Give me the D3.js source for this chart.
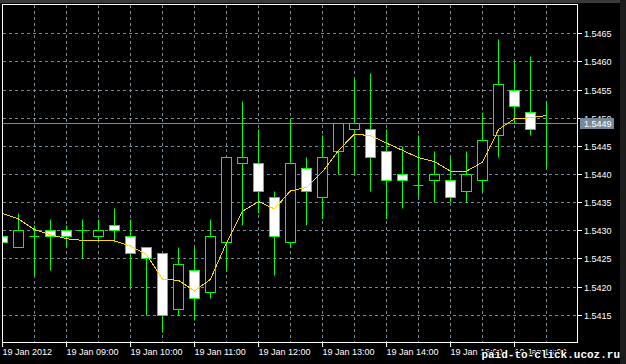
<!DOCTYPE html>
<html>
<head>
<meta charset="utf-8">
<script src="https://cdn.jsdelivr.net/npm/d3@7"></script>
<style>
  html, body { margin: 0; padding: 0; background: #000; }
  svg { display: block; }
  text { font-family: "Liberation Sans", Arial, sans-serif; font-size: 9px; fill: #fff; }
</style>
</head>
<body>
<div id="chart"></div>
<script>
// GBPUSD M15, 19 Jan 2012 -- candles
var times = ["08:00","08:15","08:30","08:45","09:00","09:15","09:30","09:45",
             "10:00","10:15","10:30","10:45","11:00","11:15","11:30","11:45",
             "12:00","12:15","12:30","12:45","13:00","13:15","13:30","13:45",
             "14:00","14:15","14:30","14:45","15:00","15:15","15:30","15:45",
             "16:00","16:15","16:30"];

var opens  = [1.5429,1.5427,1.5429,1.5430,1.5430,1.5430,1.5429,1.5431,1.5429,1.5427,1.5426,1.5416,
              1.5423,1.5419,1.5428,1.5442,1.5442,1.5436,1.5428,1.5441,1.5436,1.5444,1.5448,1.5448,
              1.5444,1.5440,1.5438,1.5439,1.5439,1.5437,1.5439,1.5447,1.5455,1.5451,1.5449];
var highs  = [1.5429,1.5433,1.5431,1.5432,1.5431,1.5432,1.5432,1.5434,1.5432,1.5427,1.5426,1.5427,
              1.5427,1.5432,1.5443,1.5453,1.5448,1.5437,1.5450,1.5443,1.5447,1.5449,1.5457,1.5458,
              1.5448,1.5445,1.5447,1.5444,1.5443,1.5444,1.5451,1.5464,1.5460,1.5461,1.5453];
var lows   = [1.5428,1.5427,1.5422,1.5423,1.5427,1.5425,1.5428,1.5428,1.5420,1.5415,1.5412,1.5415,
              1.5414,1.5418,1.5423,1.5431,1.5433,1.5422,1.5427,1.5431,1.5432,1.5440,1.5440,1.5437,
              1.5432,1.5434,1.5436,1.5435,1.5435,1.5435,1.5437,1.5443,1.5449,1.5447,1.5441];
var closes = [1.5428,1.5430,1.5429,1.5429,1.5429,1.5430,1.5430,1.5430,1.5426,1.5425,1.5415,1.5424,
              1.5418,1.5429,1.5443,1.5443,1.5437,1.5429,1.5442,1.5437,1.5443,1.5449,1.5449,1.5443,
              1.5439,1.5439,1.5438,1.5440,1.5436,1.5440,1.5446,1.5456,1.5452,1.5448,1.5449];

// moving average (yellow line), read at each bar
var maValues = [1.54330,1.54320,1.54301,1.54292,1.54285,1.54282,1.54282,1.54281,1.54272,1.54257,1.54213,1.54211,
                1.54192,1.54213,1.54278,1.54334,1.54351,1.54338,1.54370,1.54376,1.54404,1.54442,1.54471,1.54468,
                1.54455,1.54442,1.54429,1.54422,1.54405,1.54405,1.54421,1.54479,1.54498,1.54500,1.54504];

var priceTicks = [1.5415,1.5420,1.5425,1.5430,1.5435,1.5440,1.5445,1.5450,1.5455,1.5460,1.5465];

var width = 626, height = 364;
var area = {left: 3, top: 5, right: 578, bottom: 343};

var parseTime = d3.timeParse("%Y-%m-%d %H:%M");
var data = times.map(function(t, i) {
  return { date: parseTime("2012-01-19 " + t), open: opens[i], high: highs[i],
           low: lows[i], close: closes[i], ma: maValues[i] };
});

var svg = d3.select("#chart").append("svg")
    .attr("width", width)
    .attr("height", height);

// window frame
svg.append("rect").attr("width", width).attr("height", height).attr("fill", "#000");
svg.append("rect").attr("width", width).attr("height", 3).attr("fill", "#3a3a3a");
svg.append("rect").attr("x", 620).attr("width", 6).attr("height", height).attr("fill", "#1c1c1c");

var x = d3.scaleTime()
    .domain([data[0].date, data[data.length - 1].date])
    .range([2.5, 546.5]);

var y = d3.scaleLinear()
    .domain([1.5410, 1.5470])
    .range([342.8, 5.2]);

// snap to pixel centres so the 1px lines stay crisp
function py(v) { return Math.round(y(v)) + 0.5; }
function px(d) { return Math.round(x(d) - 0.5) + 0.5; }

svg.append("clipPath")
    .attr("id", "clip")
    .append("rect")
    .attr("x", area.left)
    .attr("y", area.top)
    .attr("width", area.right - area.left - 1)
    .attr("height", area.bottom - area.top - 1);

var plot = svg.append("g").attr("clip-path", "url(#clip)");

// grid
var gridColor = "#778899";
plot.append("g")
    .selectAll("line")
    .data(priceTicks)
    .enter().append("line")
    .attr("x1", area.left).attr("x2", area.right)
    .attr("y1", py).attr("y2", py)
    .attr("stroke", gridColor)
    .attr("stroke-dasharray", "3,3");

var halfHours = x.ticks(d3.timeMinute.every(30)).slice(1);
plot.append("g")
    .selectAll("line")
    .data(halfHours)
    .enter().append("line")
    .attr("x1", px).attr("x2", px)
    .attr("y1", area.top).attr("y2", area.bottom)
    .attr("stroke", gridColor)
    .attr("stroke-dasharray", "3,3");

// bid line
var bid = closes[closes.length - 1];
plot.append("line")
    .attr("x1", area.left).attr("x2", area.right)
    .attr("y1", py(bid)).attr("y2", py(bid))
    .attr("stroke", gridColor);

// candles
var green = "#00ff00";
var candles = plot.append("g")
    .selectAll("g")
    .data(data)
    .enter().append("g");

candles.append("line")
    .attr("x1", function(d) { return px(d.date); })
    .attr("x2", function(d) { return px(d.date); })
    .attr("y1", function(d) { return py(d.high); })
    .attr("y2", function(d) { return py(d.low); })
    .attr("stroke", green);

candles.filter(function(d) { return d.open !== d.close; })
    .append("rect")
    .attr("x", function(d) { return px(d.date) - 5; })
    .attr("width", 10)
    .attr("y", function(d) { return Math.min(py(d.open), py(d.close)); })
    .attr("height", function(d) { return Math.abs(py(d.open) - py(d.close)); })
    .attr("fill", function(d) { return d.close < d.open ? "#fff" : "#000"; })
    .attr("stroke", green);

candles.filter(function(d) { return d.open === d.close; })
    .append("line")
    .attr("x1", function(d) { return px(d.date) - 5; })
    .attr("x2", function(d) { return px(d.date) + 5; })
    .attr("y1", function(d) { return py(d.open); })
    .attr("y2", function(d) { return py(d.open); })
    .attr("stroke", green);

// moving average
var maLine = d3.line()
    .x(function(d) { return x(d.date); })
    .y(function(d) { return y(d.ma); });

plot.append("path")
    .datum(data)
    .attr("d", maLine)
    .attr("fill", "none")
    .attr("stroke", "#ffd700")
    .attr("stroke-width", 1)
    .style("shape-rendering", "crispEdges");

// chart border
svg.append("rect")
    .attr("x", 2.5).attr("y", 4.5)
    .attr("width", 575).attr("height", 338)
    .attr("fill", "none")
    .attr("stroke", "#fff");

// price axis
var yAxis = d3.axisRight(y)
    .tickValues(priceTicks)
    .tickFormat(d3.format(".4f"))
    .tickSize(4)
    .offset(0);

var yG = svg.append("g")
    .attr("transform", "translate(578,0)")
    .call(yAxis);
yG.select(".domain").remove();
yG.selectAll(".tick").attr("transform", function(d) { return "translate(0," + py(d) + ")"; });
yG.selectAll(".tick line").attr("stroke", "#fff");
yG.selectAll(".tick text")
    .attr("x", 6).attr("dy", "0.38em")
    .attr("fill", "#fff")
    .style("font-family", "'Liberation Sans', Arial, sans-serif")
    .style("font-size", "9px");

// time axis
var hours = x.ticks(d3.timeHour.every(1));
var fmtHour = d3.timeFormat("%d %b %H:%M");
var xAxis = d3.axisBottom(x)
    .tickValues(hours)
    .tickFormat(function(d, i) { return i === 0 ? d3.timeFormat("%d %b %Y")(d) : fmtHour(d); })
    .tickSize(4)
    .offset(0);

var xG = svg.append("g")
    .attr("transform", "translate(0,343)")
    .call(xAxis);
xG.select(".domain").remove();
xG.selectAll(".tick").attr("transform", function(d) { return "translate(" + px(d) + ",0)"; });
xG.selectAll(".tick line").attr("stroke", "#fff");
xG.selectAll(".tick text")
    .attr("text-anchor", "start")
    .attr("x", 0).attr("y", 12).attr("dy", 0)
    .attr("fill", "#fff")
    .style("font-family", "'Liberation Sans', Arial, sans-serif")
    .style("font-size", "9px");

// bid label
svg.append("rect")
    .attr("x", 580).attr("y", py(bid) - 5.5)
    .attr("width", 34).attr("height", 11)
    .attr("fill", gridColor);
svg.append("text")
    .attr("x", 584).attr("y", py(bid) + 3.5)
    .text(d3.format(".4f")(bid));

// watermark
svg.append("text")
    .attr("x", 620).attr("y", 358)
    .attr("text-anchor", "end")
    .style("font-family", "'Liberation Mono', 'DejaVu Sans Mono', monospace")
    .style("font-size", "11px")
    .style("font-weight", "bold")
    .style("paint-order", "stroke")
    .attr("stroke", "#000")
    .attr("stroke-width", 2)
    .attr("fill", "#fff")
    .text("paid-to-click.ucoz.ru");
</script>
</body>
</html>
